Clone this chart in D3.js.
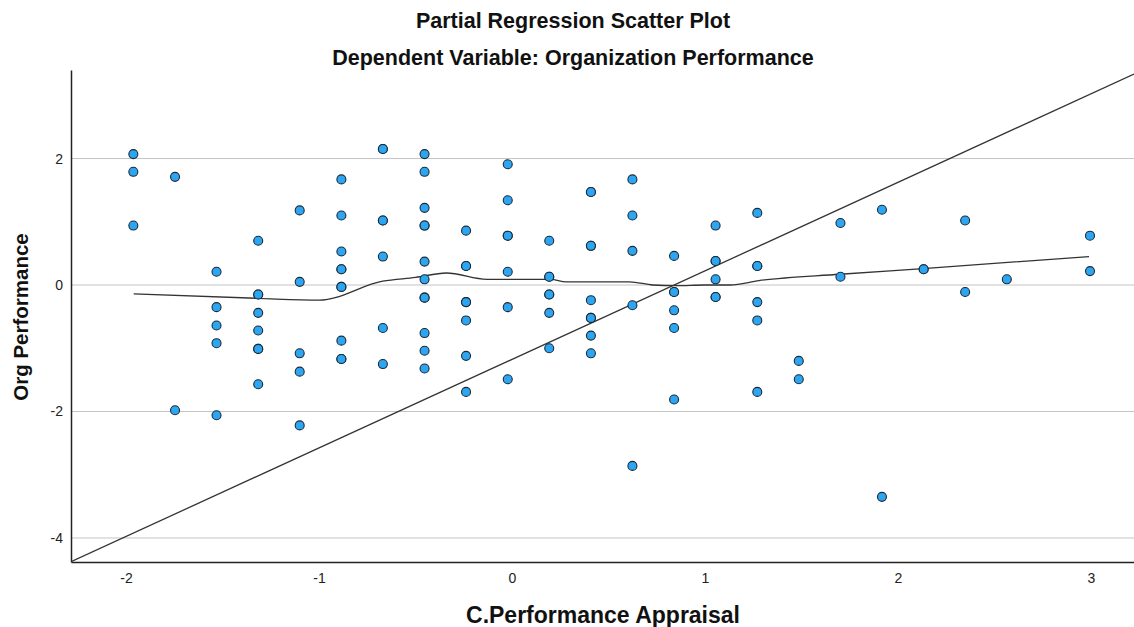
<!DOCTYPE html>
<html>
<head>
<meta charset="utf-8">
<script src="https://cdn.jsdelivr.net/npm/d3@7"></script>
<style>
  body { margin: 0; background: #fff; }
  svg { display: block; font-family: "Liberation Sans", Arial, sans-serif; }
  .tick text { font-size: 14px; fill: #222; }
</style>
</head>
<body>
<div id="chartDiv"></div>
<script>
// chart text
const titleLines = ['Partial Regression Scatter Plot', 'Dependent Variable: Organization Performance'];
const xLabel = 'C.Performance Appraisal';
const yLabel = 'Org Performance';

// tick values
const xTicks = [-2, -1, 0, 1, 2, 3];
const yTicks = [2, 0, -2, -4];

// x position of each column of cases
const colX = [-1.962, -1.746, -1.531, -1.315, -1.100, -0.884, -0.669, -0.453, -0.238, -0.022,
              0.193, 0.409, 0.624, 0.840, 1.055, 1.271, 1.486, 1.702, 1.917, 2.133, 2.348, 2.564, 2.995];

// residual values of the cases in each column
const colY = [
  [2.07, 1.79, 0.94],
  [1.71, -1.98],
  [0.21, -0.35, -0.64, -0.92, -2.06],
  [0.70, -0.15, -0.15, -0.44, -0.72, -1.01, -1.01, -1.57],
  [1.18, 0.05, -1.08, -1.37, -2.22],
  [1.67, 1.10, 0.53, 0.25, 0.25, -0.03, -0.03, -0.88, -1.17, -1.17],
  [2.15, 2.15, 1.02, 1.02, 0.45, -0.68, -1.25],
  [2.07, 1.79, 1.22, 0.94, 0.94, 0.37, 0.09, -0.20, -0.20, -0.76, -1.04, -1.32],
  [0.86, 0.30, 0.30, -0.27, -0.27, -0.56, -1.12, -1.69],
  [1.91, 1.34, 0.78, 0.78, 0.21, -0.35, -1.49],
  [0.70, 0.13, 0.13, -0.15, -0.15, -0.44, -1.00],
  [1.47, 1.47, 0.62, 0.62, -0.24, -0.52, -0.52, -0.80, -1.08],
  [1.67, 1.10, 0.54, -0.32, -2.86],
  [0.46, -0.11, -0.11, -0.40, -0.68, -1.81],
  [0.94, 0.38, 0.38, 0.09, -0.19, -0.19],
  [1.14, 0.30, 0.30, -0.27, -0.56, -1.69],
  [-1.20, -1.49],
  [0.98, 0.13],
  [1.19, -3.35],
  [0.25, 0.25],
  [1.02, -0.11],
  [0.09],
  [0.78, 0.22]
];

// loess fit line
const loessX = [-1.96, -1.32, -1.00, -0.67, -0.50, -0.34, -0.13, 0.20, 0.28, 0.61, 0.73, 0.85, 1.00, 1.13, 1.28, 1.70, 2.13, 2.99];
const loessY = [-0.14, -0.21, -0.24, 0.06, 0.12, 0.19, 0.09, 0.09, 0.05, 0.05, 0.00, -0.01, 0.00, 0.00, 0.07, 0.17, 0.26, 0.45];

// linear fit line
const fitSlope = 1.40;
const fitIntercept = -1.176;

// Build Variables
const width = 1134, height = 627;
const margin = { left: 71, right: 0, top: 70, bottom: 65 };
const innerW = width - margin.left - margin.right;
const innerH = height - margin.top - margin.bottom;

const xDomain = [-2.285, 3.223];
const yDomain = [-4.38, 3.40];

const points = [];
colX.forEach((x, i) => colY[i].forEach(y => points.push({ x, y })));

const svg = d3.select('#chartDiv').append('svg')
  .attr('width', width)
  .attr('height', height);

const g = svg.append('g').attr('transform', `translate(${margin.left},${margin.top})`);

const xScale = d3.scaleLinear().domain(xDomain).range([0, innerW]);
const yScale = d3.scaleLinear().domain(yDomain).range([innerH, 0]);

g.append('clipPath').attr('id', 'plotClip')
  .append('rect').attr('width', innerW).attr('height', innerH);

// gridlines
g.append('g')
  .selectAll('line')
  .data(yTicks)
  .join('line')
  .attr('x1', 0).attr('x2', innerW)
  .attr('y1', d => yScale(d)).attr('y2', d => yScale(d))
  .attr('stroke', '#c4c4c4')
  .attr('stroke-width', 1);

// axes (plain hyphen minus, like the original)
const fmt = d => String(d);

const xAxisG = g.append('g')
  .attr('transform', `translate(0,${innerH})`)
  .call(d3.axisBottom(xScale).tickValues(xTicks).tickSize(0).tickPadding(11).tickFormat(fmt));
xAxisG.select('.domain').attr('stroke', '#222').attr('stroke-width', 1.5);

const yAxisG = g.append('g')
  .call(d3.axisLeft(yScale).tickValues(yTicks).tickSize(0).tickPadding(8).tickFormat(fmt));
yAxisG.select('.domain').attr('stroke', '#222').attr('stroke-width', 1.5);

const plot = g.append('g').attr('clip-path', 'url(#plotClip)');

// linear fit
plot.append('line')
  .attr('x1', xScale(xDomain[0]))
  .attr('y1', yScale(fitSlope * xDomain[0] + fitIntercept))
  .attr('x2', xScale(xDomain[1]))
  .attr('y2', yScale(fitSlope * xDomain[1] + fitIntercept))
  .attr('stroke', '#333')
  .attr('stroke-width', 1.3);

// loess
const loessLine = d3.line()
  .x(d => xScale(d[0]))
  .y(d => yScale(d[1]))
  .curve(d3.curveMonotoneX);

plot.append('path')
  .datum(d3.zip(loessX, loessY))
  .attr('d', loessLine)
  .attr('fill', 'none')
  .attr('stroke', '#333')
  .attr('stroke-width', 1.3);

// points
plot.append('g')
  .selectAll('circle')
  .data(points)
  .join('circle')
  .attr('cx', d => xScale(d.x))
  .attr('cy', d => yScale(d.y))
  .attr('r', 4.5)
  .attr('fill', '#2ca6f2')
  .attr('stroke', '#1c2a36')
  .attr('stroke-width', 1.1);

// titles
svg.selectAll('.title')
  .data(titleLines)
  .join('text')
  .attr('class', 'title')
  .attr('x', 573)
  .attr('y', (d, i) => 28 + i * 37)
  .attr('text-anchor', 'middle')
  .attr('font-size', 21.5)
  .attr('font-weight', 'bold')
  .attr('fill', '#111')
  .text(d => d);

// axis labels
svg.append('text')
  .attr('x', 603)
  .attr('y', 623)
  .attr('text-anchor', 'middle')
  .attr('font-size', 23)
  .attr('font-weight', 'bold')
  .attr('fill', '#111')
  .text(xLabel);

svg.append('text')
  .attr('transform', 'translate(28,317) rotate(-90)')
  .attr('text-anchor', 'middle')
  .attr('font-size', 20.5)
  .attr('font-weight', 'bold')
  .attr('fill', '#111')
  .text(yLabel);
</script>
</body>
</html>
